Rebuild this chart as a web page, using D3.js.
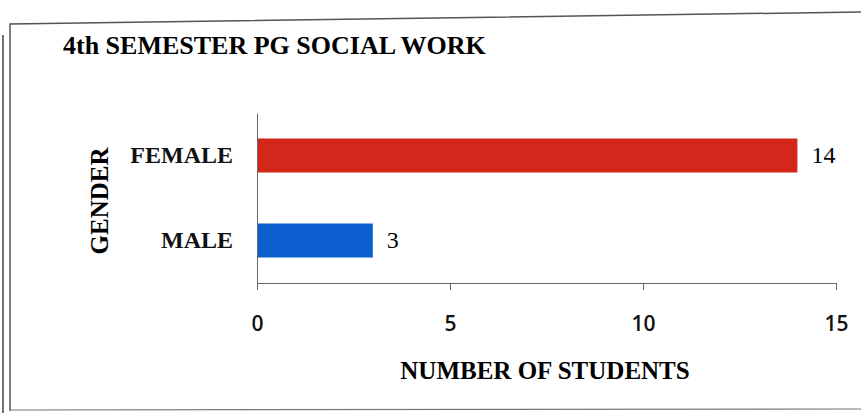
<!DOCTYPE html>
<html>
<head>
<meta charset="utf-8">
<script src="https://cdn.jsdelivr.net/npm/d3@7"></script>
<style>
  body { margin: 0; background: #fff; }
  svg { display: block; }
</style>
</head>
<body>
<div id="chart"></div>
<script>
// Chart data
const categories = ["FEMALE", "MALE"];
const values = [14, 3];
const barColors = ["#d3271b", "#0c5fcf"];
const xTicks = [0, 5, 10, 15];

const width = 861;
const height = 413;
const plot = { left: 257, right: 836, top: 113, bottom: 283 };

const svg = d3.select("#chart")
    .append("svg")
    .attr("width", width)
    .attr("height", height);

// Outer frame (scanned page edges)
svg.append("path")
    .attr("d", "M10,411 L10,24 L861,12")
    .attr("fill", "none")
    .attr("stroke", "#555")
    .attr("stroke-width", 1.5);
svg.append("line")
    .attr("x1", 3).attr("y1", 35).attr("x2", 3).attr("y2", 413)
    .attr("stroke", "#444").attr("stroke-width", 1.5);
svg.append("line")
    .attr("x1", 10).attr("y1", 410).attr("x2", 861).attr("y2", 409)
    .attr("stroke", "#777").attr("stroke-width", 1.2);

// Title
svg.append("text")
    .attr("x", 63)
    .attr("y", 54)
    .style("font-family", "'Liberation Serif', serif")
    .style("font-weight", "bold")
    .style("font-size", "26px")
    .text("4th SEMESTER PG SOCIAL WORK");

const x = d3.scaleLinear()
    .domain([0, 15])
    .range([plot.left, plot.right]);

const y = d3.scaleBand()
    .domain(categories)
    .range([plot.top, plot.bottom])
    .paddingInner(0.6)
    .paddingOuter(0.3);

// Bars
svg.selectAll(".bar")
    .data(values)
    .enter().append("rect")
    .attr("class", "bar")
    .attr("x", x(0))
    .attr("y", (d, i) => y(categories[i]))
    .attr("width", d => x(d) - x(0))
    .attr("height", y.bandwidth())
    .attr("fill", (d, i) => barColors[i]);

// Value labels
svg.selectAll(".value")
    .data(values)
    .enter().append("text")
    .attr("class", "value")
    .attr("x", d => x(d) + 14)
    .attr("y", (d, i) => y(categories[i]) + y.bandwidth() / 2)
    .attr("dy", "0.3em")
    .style("font-family", "'Liberation Serif', serif")
    .style("font-size", "24px")
    .text(d => d);

// X axis
const xAxis = svg.append("g")
    .attr("transform", `translate(0,${plot.bottom})`)
    .call(d3.axisBottom(x).tickValues(xTicks).tickSize(7).tickPadding(26));
xAxis.select(".domain").attr("stroke", "#666");
xAxis.selectAll(".tick line").attr("stroke", "#666");
xAxis.selectAll(".tick text")
    .style("font-family", "'Open Sans', sans-serif")
    .style("font-size", "21px")
    .style("font-weight", "600")
    .attr("fill", "#111");

// Y axis
const yAxis = svg.append("g")
    .attr("transform", `translate(${plot.left},0)`)
    .call(d3.axisLeft(y).tickSize(0).tickPadding(24));
yAxis.select(".domain").attr("stroke", "#666");
yAxis.selectAll(".tick text")
    .style("font-family", "'Liberation Serif', serif")
    .style("font-weight", "bold")
    .style("font-size", "24px")
    .attr("fill", "#111");

// Axis titles
svg.append("text")
    .attr("x", 545)
    .attr("y", 379)
    .attr("text-anchor", "middle")
    .style("font-family", "'Liberation Serif', serif")
    .style("font-weight", "bold")
    .style("font-size", "25px")
    .text("NUMBER OF STUDENTS");

svg.append("text")
    .attr("transform", "translate(108,201) rotate(-90)")
    .attr("text-anchor", "middle")
    .style("font-family", "'Liberation Serif', serif")
    .style("font-weight", "bold")
    .style("font-size", "25px")
    .text("GENDER");
</script>
</body>
</html>
